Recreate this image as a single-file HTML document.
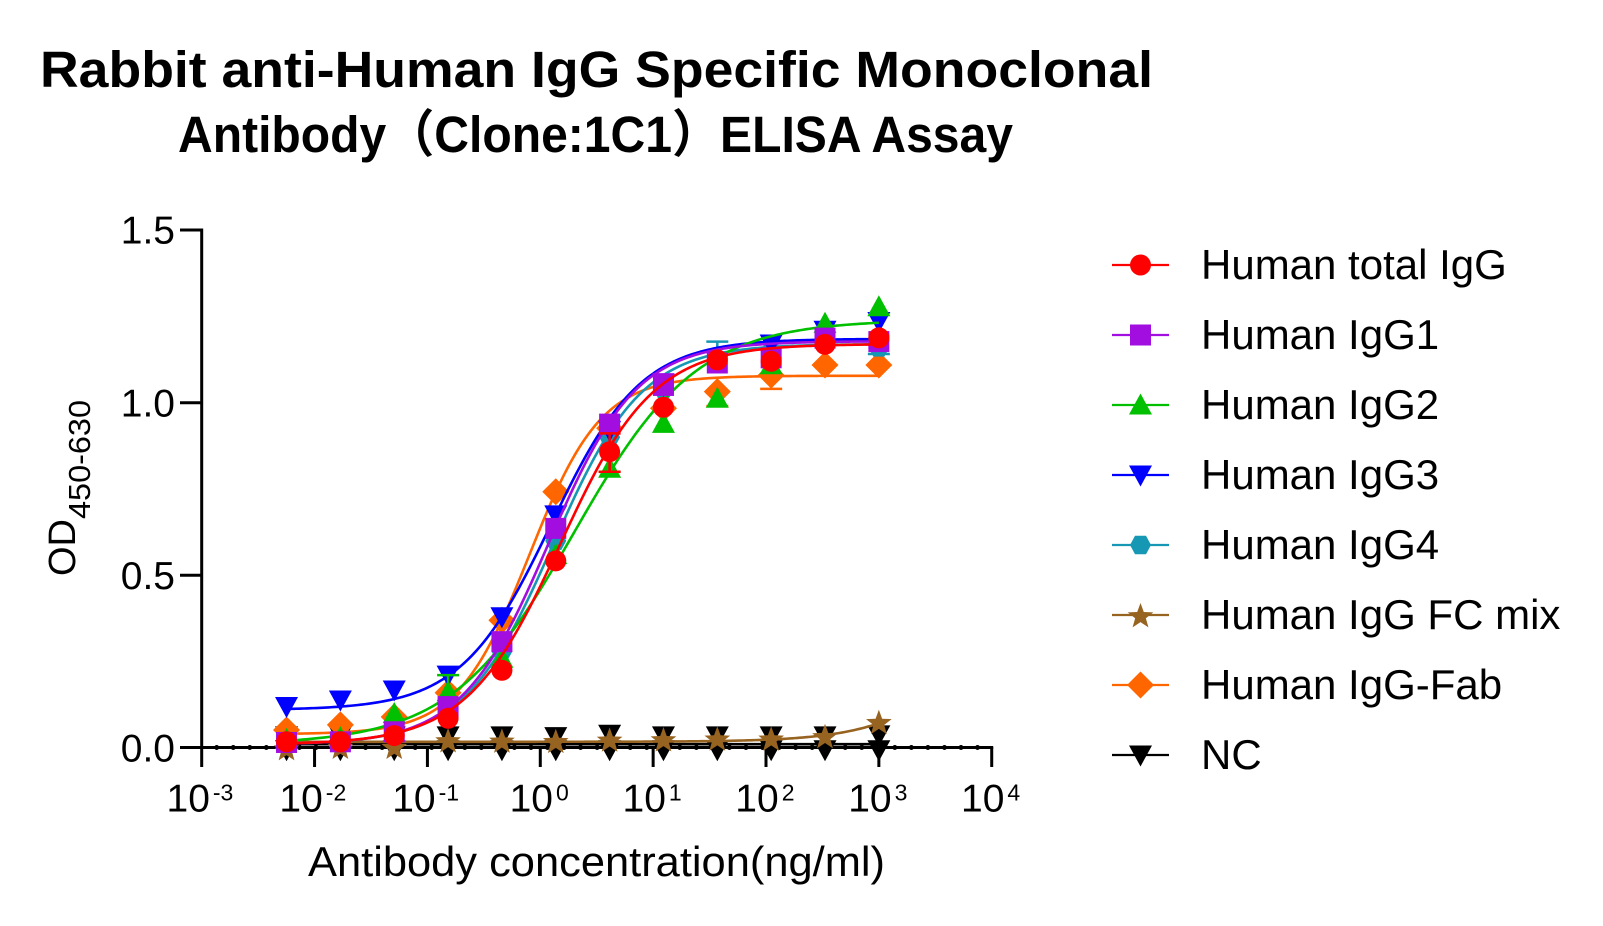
<!DOCTYPE html>
<html>
<head>
<meta charset="utf-8">
<style>
html,body{margin:0;padding:0;background:#fff;}
svg{display:block;}
text{font-family:"Liberation Sans","Noto Sans CJK SC",sans-serif;fill:#000;}
</style>
</head>
<body>
<svg id="svg" xmlns="http://www.w3.org/2000/svg" width="1603" height="926" viewBox="0 0 1603 926">
<rect x="0" y="0" width="1603" height="926" fill="#fff"/>
<!-- Title -->
<text x="40" y="87" font-size="51" font-weight="bold" textLength="1113" lengthAdjust="spacingAndGlyphs">Rabbit anti-Human IgG Specific Monoclonal</text>
<text x="178" y="152" font-size="51" font-weight="bold" textLength="835" lengthAdjust="spacingAndGlyphs">Antibody（Clone:1C1）ELISA Assay</text>

<!-- dotted baseline -->
<line x1="216.7" y1="747.5" x2="985" y2="747.5" stroke="#000" stroke-width="5" stroke-linecap="round" stroke-dasharray="0 16.54"/>
<!-- axes -->
<line x1="201.7" y1="228.5" x2="201.7" y2="749" stroke="#000" stroke-width="3"/>
<line x1="200.2" y1="747.5" x2="993.2" y2="747.5" stroke="#000" stroke-width="3"/>
<!-- y ticks -->
<g stroke="#000" stroke-width="3">
<line x1="180" y1="230" x2="202" y2="230"/>
<line x1="180" y1="402.7" x2="202" y2="402.7"/>
<line x1="180" y1="575.3" x2="202" y2="575.3"/>
<line x1="180" y1="747.5" x2="202" y2="747.5"/>
</g>
<g font-size="39" text-anchor="end">
<text x="175" y="243.6">1.5</text>
<text x="175" y="416.3">1.0</text>
<text x="175" y="588.9">0.5</text>
<text x="175" y="761.6">0.0</text>
</g>
<!-- x ticks -->
<g stroke="#000" stroke-width="3">
<line x1="201.7" y1="747" x2="201.7" y2="767"/>
<line x1="314.56" y1="747" x2="314.56" y2="767"/>
<line x1="427.42" y1="747" x2="427.42" y2="767"/>
<line x1="540.28" y1="747" x2="540.28" y2="767"/>
<line x1="653.14" y1="747" x2="653.14" y2="767"/>
<line x1="766" y1="747" x2="766" y2="767"/>
<line x1="878.86" y1="747" x2="878.86" y2="767"/>
<line x1="991.72" y1="747" x2="991.72" y2="767"/>
</g>
<g font-size="39">
<text x="166.5" y="811.7">10<tspan font-size="23" dx="3" dy="-11">-3</tspan></text>
<text x="279.4" y="811.7">10<tspan font-size="23" dx="3" dy="-11">-2</tspan></text>
<text x="392.2" y="811.7">10<tspan font-size="23" dx="3" dy="-11">-1</tspan></text>
<text x="509.6" y="811.7">10<tspan font-size="23" dx="3" dy="-11">0</tspan></text>
<text x="622.5" y="811.7">10<tspan font-size="23" dx="3" dy="-11">1</tspan></text>
<text x="735.3" y="811.7">10<tspan font-size="23" dx="3" dy="-11">2</tspan></text>
<text x="848.2" y="811.7">10<tspan font-size="23" dx="3" dy="-11">3</tspan></text>
<text x="961.0" y="811.7">10<tspan font-size="23" dx="3" dy="-11">4</tspan></text>
</g>
<!-- axis titles -->
<text x="308" y="876" font-size="42" textLength="577" lengthAdjust="spacingAndGlyphs">Antibody concentration(ng/ml)</text>
<text transform="translate(75,576) rotate(-90)" font-size="38">OD<tspan font-size="31" dy="15" textLength="119" lengthAdjust="spacingAndGlyphs">450-630</tspan></text>

<g id="plot"></g>

<!-- legend text -->
<g font-size="42">
<text x="1201" y="279">Human total IgG</text>
<text x="1201" y="349">Human IgG1</text>
<text x="1201" y="419">Human IgG2</text>
<text x="1201" y="489">Human IgG3</text>
<text x="1201" y="559">Human IgG4</text>
<text x="1201" y="629">Human IgG FC mix</text>
<text x="1201" y="699">Human IgG-Fab</text>
<text x="1201" y="769">NC</text>
</g>
<g id="legend"></g>
</svg>
<script>
(function(){
var NS="http://www.w3.org/2000/svg";
var plot=document.getElementById('plot');
var leg=document.getElementById('legend');
function X(c){return 201.7+(Math.log(c)/Math.LN10+3)*112.86;}
function Y(v){return 748-v*345.3;}
var conc=[];for(var k=11;k>=0;k--)conc.push(1000/Math.pow(3,k));
function el(tag,attrs,parent){var e=document.createElementNS(NS,tag);for(var a in attrs)e.setAttribute(a,attrs[a]);parent.appendChild(e);return e;}
function pts(a){return a.map(function(p){return p[0].toFixed(2)+','+p[1].toFixed(2);}).join(' ');}
function marker(shape,x,y,color,parent){
  var P;
  if(shape==='circle'){el('circle',{cx:x,cy:y,r:10.5,fill:color},parent);return;}
  if(shape==='square'){el('rect',{x:x-10.5,y:y-10.5,width:21,height:21,fill:color},parent);return;}
  if(shape==='up'){P=[[x,y-11.5],[x-11.5,y+9.5],[x+11.5,y+9.5]];}
  else if(shape==='down'){P=[[x-11.5,y-9.5],[x+11.5,y-9.5],[x,y+11.5]];}
  else if(shape==='hex'){P=[[x-10.5,y],[x-5.5,y-9.2],[x+5.5,y-9.2],[x+10.5,y],[x+5.5,y+9.2],[x-5.5,y+9.2]];}
  else if(shape==='diamond'){P=[[x,y-13.5],[x+13.5,y],[x,y+13.5],[x-13.5,y]];}
  else if(shape==='star'){P=[];var R=13.5,r=5.6;for(var i=0;i<10;i++){var ang=-Math.PI/2+i*Math.PI/5;var rr=(i%2===0)?R:r;P.push([x+rr*Math.cos(ang),y+1.5+rr*Math.sin(ang)]);}}
  el('polygon',{points:pts(P),fill:color},parent);
}
function f4(c,p){return p.b+(p.t-p.b)/(1+Math.pow(p.E/c,p.h));}
function curve(p,color){
  var a=[],l0=Math.log(conc[0]),l1=Math.log(conc[11]);
  for(var i=0;i<=240;i++){var c=Math.exp(l0+(l1-l0)*i/240);a.push([X(c),Y(p.flat!==undefined?p.flat:f4(c,p))]);}
  el('polyline',{points:pts(a),fill:'none',stroke:color,'stroke-width':2.6,'stroke-linejoin':'round'},plot);
}
function ebar(k,v1,v2,color){
  var x=X(conc[k]);
  el('path',{d:'M'+x+' '+Y(v1)+' V'+Y(v2)+' M'+(x-11)+' '+Y(v2)+' H'+(x+11),stroke:color,'stroke-width':2.5,fill:'none'},plot);
}
var S=[
 {name:'nc',color:'#000000',shape:'down',p:{flat:0.011},
  d:[0.035,0.035,0.035,0.035,0.035,0.033,0.04,0.035,0.035,0.035,0.035,0.038]},
 {name:'fc',color:'#976320',shape:'star',p:{b:0.018,t:0.5,E:8000,h:1},
  d:[0.0,0.004,0.004,0.023,0.022,0.021,0.025,0.026,0.028,0.028,0.035,0.076]},
 {name:'fab',color:'#FF6600',shape:'diamond',p:{b:0.04,t:1.078,E:0.8,h:1.36},
  d:[0.052,0.067,0.09,0.16,0.37,0.742,0.926,0.984,1.032,1.08,1.109,1.109]},
 {name:'g4',color:'#1698B4',shape:'hex',p:{b:0.01,t:1.17,E:1.3,h:1.1},
  d:[0.02,0.02,0.04,0.11,0.28,0.6,0.9,1.04,1.12,1.15,1.17,1.16]},
 {name:'g3',color:'#0000FF',shape:'down',p:{b:0.11,t:1.185,E:1.245,h:1.09},
  d:[0.12,0.139,0.168,0.211,0.38,0.675,0.92,1.05,1.12,1.17,1.21,1.235]},
 {name:'g2',color:'#00C000',shape:'up',p:{b:0.01,t:1.24,E:2.0,h:0.8},
  d:[0.025,0.03,0.1,0.163,0.26,0.56,0.81,0.94,1.013,1.11,1.23,1.278]},
 {name:'g1',color:'#A20DE0',shape:'square',p:{b:0.01,t:1.178,E:1.19,h:1.12},
  d:[0.016,0.018,0.047,0.12,0.308,0.636,0.938,1.05,1.115,1.13,1.187,1.177]},
 {name:'tot',color:'#FF0000',shape:'circle',p:{b:0.01,t:1.17,E:1.5,h:1.05},
  d:[0.018,0.018,0.036,0.086,0.225,0.542,0.858,0.987,1.124,1.12,1.169,1.188]}
];
// extra NC markers at zero
for(var k=0;k<12;k++)marker('down',X(conc[k]),Y(-0.005),'#000',plot);
S.forEach(function(s){
  curve(s.p,s.color);
  if(s.name==='fab'){ebar(9,1.08,1.04,s.color);ebar(8,1.032,0.99,s.color);}
  if(s.name==='g4'){ebar(11,1.16,1.141,s.color);ebar(8,1.12,1.177,s.color);}
  if(s.name==='g2'){ebar(6,0.81,0.80,s.color);ebar(3,0.163,0.211,s.color);}
  if(s.name==='g1'){ebar(7,1.05,1.082,s.color);}
  if(s.name==='tot'){ebar(6,0.80,0.911,s.color);ebar(6,0.858,0.80,s.color);}
  for(var k=0;k<12;k++)marker(s.shape,X(conc[k]),Y(s.d[k]),s.color,plot);
});
// legend
var L=[['#FF0000','circle'],['#A20DE0','square'],['#00C000','up'],['#0000FF','down'],['#1698B4','hex'],['#976320','star'],['#FF6600','diamond'],['#000000','down']];
L.forEach(function(l,i){
  var y=265+i*70;
  el('line',{x1:1112,y1:y,x2:1169,y2:y,stroke:l[0],'stroke-width':2.2},leg);
  marker(l[1],1140.5,y,l[0],leg);
});
})();
</script>
</body>
</html>
